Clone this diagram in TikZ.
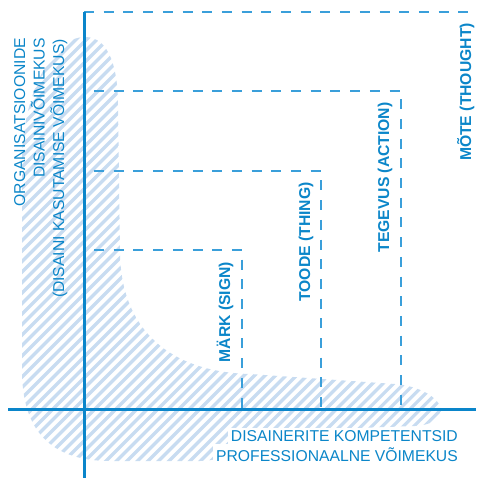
\documentclass[tikz,border=0pt]{standalone}
\usepackage{fontspec}
\setmainfont{Liberation Sans}
\definecolor{axisblue}{HTML}{0A85CA}
\definecolor{dashblue}{HTML}{3A9FDA}
\definecolor{txtblue}{HTML}{0B86C9}
\definecolor{hatchblue}{HTML}{C8DCF1}
\tikzset{
  axisline/.style={draw=axisblue, line width=3pt},
  dashbox/.style={draw=dashblue, line width=1.8pt, dash pattern=on 10pt off 9.7pt},
  hatchline/.style={draw=hatchblue, line width=3.2pt},
  sidelabel/.style={text=txtblue, font=\fontsize{15.7}{19.5}\selectfont, rotate=90, anchor=base east, inner sep=0pt},
  levellabel/.style={text=txtblue, font=\fontsize{15.7}{19.5}\selectfont\bfseries, rotate=90, anchor=base, inner sep=0pt},
  bottomlabel/.style={text=txtblue, font=\fontsize{15.7}{19.5}\selectfont, anchor=base east, fill=white, inner sep=3pt}
}
\begin{document}
\begin{tikzpicture}[x=1pt,y=-1pt]
\useasboundingbox (0,0) rectangle (476,478);
% hatched band
\begin{scope}
\clip (85,37) .. controls (110,37) and (118,70) .. (118,105)
  -- (120,255) .. controls (122,330) and (170,372) .. (250,374)
  -- (395,384) .. controls (420,386) and (440,398) .. (441,410)
  .. controls (441,420) and (430,425) .. (415,426)
  -- (300,430) .. controls (260,432) and (240,460) .. (200,461)
  -- (110,461) .. controls (50,461) and (22,430) .. (22,370)
  -- (22,160) .. controls (22,100) and (50,37) .. (85,37) -- cycle;
\foreach \k in {-480,-469.5,...,470} {
  \draw[hatchline] (\k,480) -- ({\k+480},0);
}
\end{scope}
% dashed level boxes
\coordinate (mS) at (94,250); \coordinate (mC) at (242,250); \coordinate (mE) at (242,409);
\coordinate (tS) at (94,171); \coordinate (tC) at (321,171); \coordinate (tE) at (321,409);
\coordinate (gS) at (94,91);  \coordinate (gC) at (401,91);  \coordinate (gE) at (401,409);
\coordinate (oS) at (84,12);  \coordinate (oE) at (476,12);
\draw[dashbox] (mS) -- (mC) -- (mE);
\draw[dashbox] (tS) -- (tC) -- (tE);
\draw[dashbox] (gS) -- (gC) -- (gE);
\draw[dashbox] (oS) -- (oE);
% axes
\coordinate (yTop) at (84,12); \coordinate (yBot) at (84,478);
\coordinate (xL) at (8,409); \coordinate (xR) at (476,409);
\draw[axisline] (yTop) -- (yBot);
\draw[axisline] (xL) -- (xR);
% level labels
\node[levellabel] (sign) at (230,312) {MÄRK (SIGN)};
\node[levellabel] (thing) at (310,242) {TOODE (THING)};
\node[levellabel] (action) at (389,177.5) {TEGEVUS (ACTION)};
\node[levellabel] (thought) at (471,92) {MÕTE (THOUGHT)};
% side labels
\node[sidelabel] (org1) at (25,38) {ORGANISATSIOONIDE};
\node[sidelabel] (org2) at (44.5,38) {DISAINIVÕIMEKUS};
\node[sidelabel] (org3) at (64,39) {(DISAINI KASUTAMISE VÕIMEKUS)};
% bottom labels
\node[bottomlabel] (comp1) at (461,441.5) {DISAINERITE KOMPETENTSID};
\node[bottomlabel] (comp2) at (461,461) {PROFESSIONAALNE VÕIMEKUS};
\end{tikzpicture}
\end{document}
